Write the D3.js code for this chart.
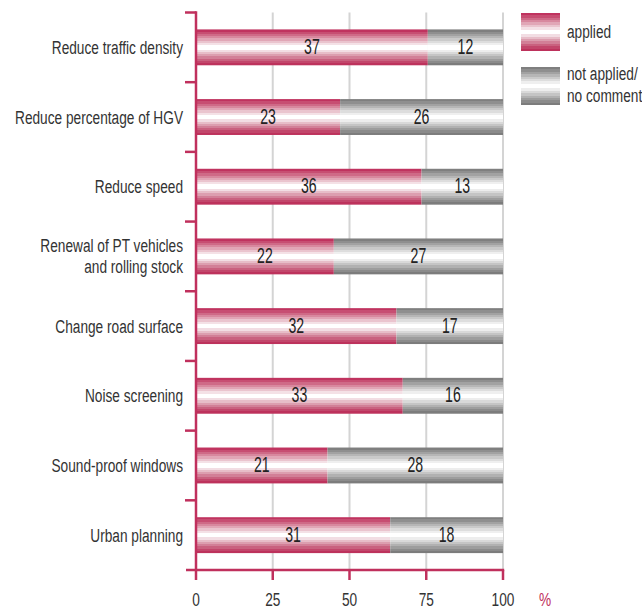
<!DOCTYPE html>
<meta charset="utf-8">
<style>
  body { margin: 0; background: #fff; }
  text { font-family: "Liberation Sans", Arial, sans-serif; }
</style>
<body>
<div id="chart"></div>
<script src="https://d3js.org/d3.v7.min.js"></script>
<script>
  // data
  var categories = ["Reduce traffic density", "Reduce percentage of HGV", "Reduce speed",
    "Renewal of PT vehicles\nand rolling stock", "Change road surface", "Noise screening",
    "Sound-proof windows", "Urban planning"];
  var applied = [37, 23, 36, 22, 32, 33, 21, 31];
  var notApplied = [12, 26, 13, 27, 17, 16, 28, 18];
  var xTicks = [0, 25, 50, 75, 100];
  var seriesNames = ["applied", "not applied/\nno comment"];

  var crimson = "#c0305d";
  var W = 642, H = 612;
  var plotLeft = 196, plotRight = 503, plotTop = 12.5, plotBottom = 570;

  var svg = d3.select("#chart").append("svg")
    .attr("width", W).attr("height", H);

  // stepped stripe gradients
  var pinkStops = ["#c0335f", "#c74e72", "#cf6a87", "#d8889e", "#e1a6b6", "#eac4ce", "#f4e1e6", "#ffffff",
    "#ffffff", "#f2dde3", "#e7bdc8", "#dc9eaf", "#d27f97", "#c9617f", "#c2466b", "#bd325c"];
  var grayStops = ["#7f7f7f", "#8f8f8f", "#a2a2a2", "#b6b6b6", "#cacaca", "#dddddd", "#efefef", "#ffffff",
    "#ffffff", "#ededed", "#d9d9d9", "#c5c5c5", "#b1b1b1", "#9d9d9d", "#8b8b8b", "#7c7c7c"];
  var defs = svg.append("defs");
  function stripes(id, cols) {
    var g = defs.append("linearGradient").attr("id", id)
      .attr("x1", 0).attr("y1", 0).attr("x2", 0).attr("y2", 1);
    var n = cols.length;
    cols.forEach(function (c, i) {
      g.append("stop").attr("offset", (i / n * 100) + "%").attr("stop-color", c);
      g.append("stop").attr("offset", ((i + 1) / n * 100) + "%").attr("stop-color", c);
    });
  }
  stripes("gPink", pinkStops);
  stripes("gGray", grayStops);

  // text helper: multi-line, horizontally squeezed for a condensed look
  function label(parent, x, y, str, anchor, color, size, squeeze, lh) {
    var t = parent.append("text")
      .attr("transform", "translate(" + x + "," + y + ") scale(" + squeeze + ",1)")
      .attr("text-anchor", anchor).attr("font-size", size).attr("fill", color);
    str.split("\n").forEach(function (s, i) {
      t.append("tspan").attr("x", 0).attr("dy", i ? (lh || 21) : 0).text(s);
    });
    return t;
  }

  var x = d3.scaleLinear().domain([0, 100]).range([plotLeft, plotRight]);
  var y = d3.scaleBand().domain(categories).range([plotTop, plotBottom])
    .paddingInner(0.485).paddingOuter(0.2425);

  // grid
  svg.append("g").selectAll("line").data(xTicks.slice(1)).join("line")
    .attr("x1", d => x(d)).attr("x2", d => x(d))
    .attr("y1", plotTop).attr("y2", plotBottom)
    .attr("stroke", "#d4d4d4").attr("stroke-width", 2);

  // bars
  var rows = categories.map(function (c, i) {
    var total = applied[i] + notApplied[i];
    return { cat: c, a: applied[i], n: notApplied[i], pa: applied[i] / total * 100 };
  });
  var barG = svg.append("g");
  barG.selectAll(".a").data(rows).join("rect")
    .attr("x", x(0)).attr("y", d => y(d.cat))
    .attr("width", d => x(d.pa) - x(0)).attr("height", y.bandwidth())
    .attr("fill", "url(#gPink)");
  barG.selectAll(".n").data(rows).join("rect")
    .attr("x", d => x(d.pa)).attr("y", d => y(d.cat))
    .attr("width", d => x(100) - x(d.pa)).attr("height", y.bandwidth())
    .attr("fill", "url(#gGray)");
  rows.forEach(function (d) {
    var cy = y(d.cat) + y.bandwidth() / 2 + 6.5;
    label(barG, (x(0) + x(d.pa)) / 2, cy, String(d.a), "middle", "#222", 22, 0.64);
    label(barG, (x(d.pa) + x(100)) / 2, cy, String(d.n), "middle", "#222", 22, 0.64);
  });

  // category labels
  var labG = svg.append("g");
  categories.forEach(function (d) {
    var lines = d.split("\n").length;
    var cy = y(d) + y.bandwidth() / 2 + 6.5 - (lines - 1) * 11;
    label(labG, 183, cy, d, "end", "#333", 19, 0.72, 21);
  });

  // left axis with ticks at band boundaries
  var bounds = d3.range(categories.length).map(i => plotTop + i * y.step());
  var ax = svg.append("g").attr("stroke", crimson).attr("stroke-width", 2.5);
  ax.append("line").attr("x1", plotLeft).attr("x2", plotLeft)
    .attr("y1", plotTop - 1.2).attr("y2", plotBottom + 10);
  ax.selectAll(".t").data(bounds).join("line")
    .attr("x1", plotLeft - 11).attr("x2", plotLeft).attr("y1", d => d).attr("y2", d => d);

  // bottom axis
  ax.append("line").attr("x1", plotLeft - 10).attr("x2", x(100) + 1.2)
    .attr("y1", plotBottom).attr("y2", plotBottom);
  ax.selectAll(".bt").data(xTicks.slice(1)).join("line")
    .attr("x1", d => x(d)).attr("x2", d => x(d))
    .attr("y1", plotBottom).attr("y2", plotBottom + 10);
  var tickG = svg.append("g");
  xTicks.forEach(function (d) {
    label(tickG, x(d), 606, String(d), "middle", "#333", 19, 0.72);
  });
  label(tickG, 545, 606, "%", "middle", crimson, 19, 0.72);

  // legend
  var leg = svg.append("g");
  leg.selectAll("rect").data(seriesNames).join("rect")
    .attr("x", 521).attr("y", (d, i) => 13 + i * 54).attr("width", 39).attr("height", 38)
    .attr("fill", (d, i) => i ? "url(#gGray)" : "url(#gPink)");
  seriesNames.forEach(function (d, i) {
    label(leg, 567, i ? 80 : 38, d, "start", "#333", 19, 0.72, 22);
  });
</script>
</body>
